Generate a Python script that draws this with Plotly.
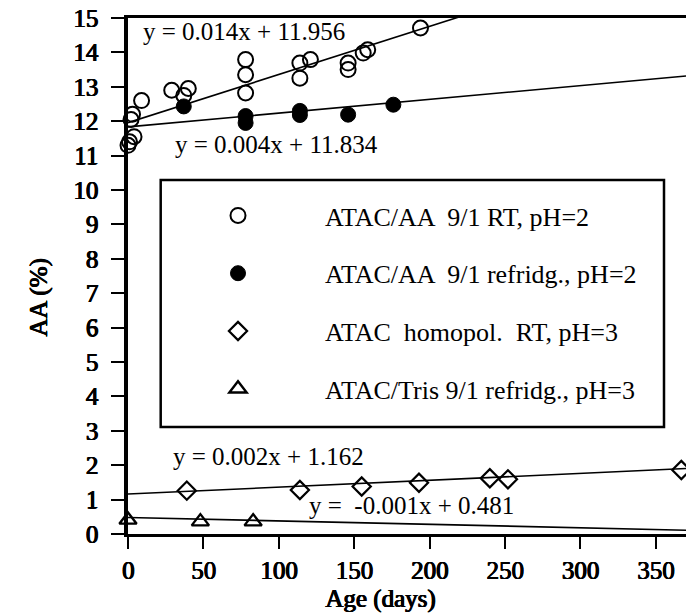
import plotly.graph_objects as go

# ---- data ----
days_rt = [0, 1, 4, 2, 3, 9, 29, 37, 40, 78, 78, 78, 114, 114, 121, 146, 146, 156, 159, 194]
aa_rt = [11.3, 11.4, 11.55, 12.05, 12.2, 12.6, 12.9, 12.75, 12.95, 12.82, 13.35, 13.79,
         13.25, 13.69, 13.79, 13.5, 13.69, 13.98, 14.08, 14.71]

days_ref = [37, 78, 78, 114, 114, 146, 176]
aa_ref = [12.43, 12.15, 11.95, 12.18, 12.3, 12.19, 12.48]

days_homo = [39, 114, 155, 193, 240, 252, 367]
aa_homo = [1.26, 1.28, 1.38, 1.49, 1.62, 1.59, 1.86]

days_tris = [0, 48, 83]
aa_tris = [0.41, 0.36, 0.36]

series_names = ["ATAC/AA  9/1 RT, pH=2", "ATAC/AA  9/1 refridg., pH=2",
                "ATAC  homopol.  RT, pH=3", "ATAC/Tris 9/1 refridg., pH=3"]

fit_slopes = [0.014, 0.004, 0.002, -0.001]
fit_intercepts = [11.956, 11.834, 1.162, 0.481]
fit_labels = ["y = 0.014x + 11.956", "y = 0.004x + 11.834",
              "y = 0.002x + 1.162", "y =  -0.001x + 0.481"]
fit_label_x = [77, 98.6, 93.3, 187.7]
fit_label_y = [14.6, 11.31, 2.25, 0.84]

x_ticks = [0, 50, 100, 150, 200, 250, 300, 350]
y_ticks = list(range(0, 16))
x_max = 370.1

SERIF = "Liberation Serif"
# no bold serif face is installed: emulate bold with a thin text shadow
BOLD_SHADOW = "0.9px 0 0 black, 0.45px 0 0 black, 0 0.3px 0 black"

fig = go.Figure()

for s, b in zip(fit_slopes, fit_intercepts):
    xs = [0, x_max]
    fig.add_trace(go.Scatter(x=xs, y=[b + s * v for v in xs], mode="lines",
                             line=dict(color="black", width=1.6),
                             showlegend=False, hoverinfo="skip"))

fig.add_trace(go.Scatter(x=days_rt, y=aa_rt, mode="markers", name=series_names[0],
                         legendgroup="a", cliponaxis=False,
                         marker=dict(symbol="circle-open", size=15, color="black",
                                     line=dict(color="black", width=2))))
fig.add_trace(go.Scatter(x=days_ref, y=aa_ref, mode="markers", name=series_names[1],
                         legendgroup="b", cliponaxis=False,
                         marker=dict(symbol="circle", size=15, color="black",
                                     line=dict(color="black", width=1))))
fig.add_trace(go.Scatter(x=days_homo, y=aa_homo, mode="markers", name=series_names[2],
                         legendgroup="c", cliponaxis=False,
                         marker=dict(symbol="diamond-open", size=14, color="black",
                                     line=dict(color="black", width=2.2))))
fig.add_trace(go.Scatter(x=days_tris, y=aa_tris, mode="markers", name=series_names[3],
                         legendgroup="d", cliponaxis=False,
                         marker=dict(symbol="triangle-up-open", size=15, color="black",
                                     line=dict(color="black", width=2.4))))

anns = []
for txt, ax_, ay_ in zip(fit_labels, fit_label_x, fit_label_y):
    anns.append(dict(x=ax_, y=ay_, xref="x", yref="y", text=txt, showarrow=False,
                     font=dict(family=SERIF, size=25, color="black"),
                     xanchor="center", yanchor="middle"))

anns.append(dict(x=(23 - 128) / 558, y=(534 - 298) / 516, xref="paper", yref="paper",
                 text="AA (%)", showarrow=False, textangle=-90,
                 font=dict(family=SERIF, size=25, color="black", shadow=BOLD_SHADOW)))
anns.append(dict(x=(380 - 128) / 558, y=(534 - 599) / 516, xref="paper", yref="paper",
                 text="Age (days)", showarrow=False,
                 font=dict(family=SERIF, size=25, color="black", shadow=BOLD_SHADOW),
                 xanchor="center", yanchor="middle"))

fig.update_layout(
    width=686, height=614,
    margin=dict(l=128, r=0, t=18, b=80),
    paper_bgcolor="white", plot_bgcolor="white",
    font=dict(family=SERIF, color="black"),
    showlegend=True,
    legend=dict(x=(151 - 128) / 558, y=(534 - 192) / 516, xanchor="left", yanchor="top",
                bgcolor="rgba(0,0,0,0)", borderwidth=0,
                font=dict(family=SERIF, size=26, color="black"),
                itemwidth=164, tracegroupgap=21, traceorder="grouped"),
    annotations=anns,
    shapes=[dict(type="rect", xref="paper", yref="paper",
                 x0=(160.7 - 128) / 558, x1=(664 - 128) / 558,
                 y0=(534 - 427) / 516, y1=(534 - 180) / 516,
                 line=dict(color="black", width=2.5), fillcolor="rgba(0,0,0,0)")],
)

tick_font = dict(family=SERIF, size=25, color="black", shadow=BOLD_SHADOW)
fig.update_xaxes(range=[0, x_max], tickvals=x_ticks, showgrid=False, zeroline=False,
                 showline=True, linecolor="black", linewidth=3, mirror=True,
                 ticks="outside", ticklen=12, tickwidth=2, tickcolor="black",
                 tickfont=tick_font)
fig.update_yaxes(range=[0, 15], tickvals=y_ticks, showgrid=False, zeroline=False,
                 showline=True, linecolor="black", linewidth=4,
                 ticks="outside", ticklen=13, tickwidth=2, tickcolor="black",
                 ticklabelstandoff=8, tickfont=tick_font)

fig.write_html("out.html")
